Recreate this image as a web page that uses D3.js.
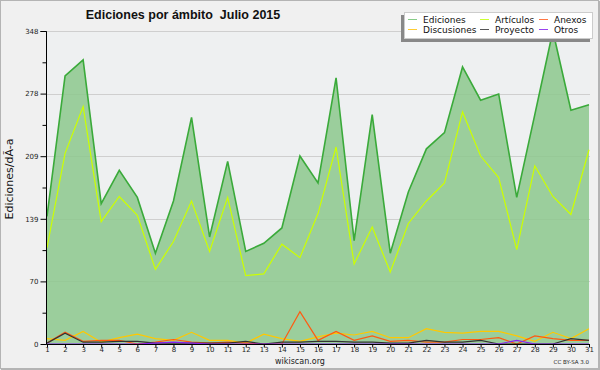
<!DOCTYPE html>
<html>
<head>
<meta charset="utf-8">
<script src="https://cdn.jsdelivr.net/npm/d3@7"></script>
<style>
  body { margin: 0; background: #f0f0f0; }
  svg { display: block; }
</style>
</head>
<body>
<div id="wrapper"></div>
<script>
// Data
const days = d3.range(1, 32);
const ediciones = [142, 298, 316, 156, 193, 163, 101, 159, 252, 119, 203, 103, 112, 129, 209, 179, 296, 115, 255, 101, 169, 217, 235, 308, 271, 278, 163, 255, 348, 260, 266];
const articulos = [107, 212, 264, 136, 164, 143, 83, 114, 159, 103, 163, 76, 78, 111, 96, 145, 219, 89, 130, 80, 134, 159, 179, 258, 209, 185, 105, 198, 164, 144, 216];
const discusiones = [6, 4, 14, 2, 7, 11, 6, 4, 13, 4, 4, 1, 11, 6, 3, 8, 12, 10, 14, 7, 7, 17, 13, 12, 14, 14, 9, 3, 13, 6, 17];
const anexos = [1, 13, 3, 4, 4, 0, 2, 5, 2, 1, 2, 1, 0, 0, 36, 4, 14, 4, 9, 3, 4, 2, 2, 5, 5, 7, 0, 9, 6, 4, 4];
const proyecto = [1, 12, 2, 2, 3, 3, 1, 1, 1, 1, 1, 3, 0, 2, 2, 3, 3, 2, 2, 1, 1, 4, 2, 2, 4, 0, 0, 0, 0, 6, 4];
const otros = [0, 0, 0, 0, 0, 0, 1, 2, 1, 0, 0, 0, 0, 0, 0, 0, 0, 0, 0, 0, 0, 0, 0, 0, 0, 0, 4, 0, 0, 0, 0];

const yMax = 348;
const yTicks = [0, 69.6, 139.2, 208.8, 278.4, 348];
const yMinorTicks = [34.8, 104.4, 174, 243.6, 313.2];

const legendNames = ["Ediciones", "Artículos", "Anexos", "Discusiones", "Proyecto", "Otros"];
const legendColors = ["#88cc88", "#ccff33", "#ff7744", "#ffcc33", "#555555", "#9944ee"];

const width = 600;
const height = 370;
const plot = { left: 47, right: 589, top: 31, bottom: 344 };

const svg = d3.select("#wrapper").append("svg")
  .attr("width", width)
  .attr("height", height);

// Background and frame
svg.append("rect").attr("width", width).attr("height", height).attr("fill", "#f0f0f0");
svg.append("rect")
  .attr("x", 0.5).attr("y", 0.5)
  .attr("width", width - 2).attr("height", height - 2)
  .attr("fill", "none").attr("stroke", "#b4b4b4");
svg.append("line").attr("x1", 1).attr("x2", width).attr("y1", height - 0.5).attr("y2", height - 0.5).attr("stroke", "#b4b4b4");
svg.append("line").attr("x1", width - 0.5).attr("x2", width - 0.5).attr("y1", 1).attr("y2", height).attr("stroke", "#b4b4b4");

// Scales
const xScale = d3.scaleLinear().domain([1, 31]).range([plot.left, plot.right]);
const yScale = d3.scaleLinear().domain([0, yMax]).range([plot.bottom, plot.top]);

// Plot area
svg.append("rect")
  .attr("x", plot.left).attr("y", plot.top)
  .attr("width", plot.right - plot.left + 1).attr("height", plot.bottom - plot.top)
  .attr("fill", "#eef0f1");

// Grid
svg.append("g")
  .selectAll("line")
  .data(yTicks.filter((d) => d > 0))
  .join("line")
  .attr("x1", plot.left).attr("x2", plot.right + 1)
  .attr("y1", (d) => Math.round(yScale(d)) + 0.5)
  .attr("y2", (d) => Math.round(yScale(d)) + 0.5)
  .attr("stroke", "#cfcfcf");

// Ediciones area
const area = d3.area()
  .x((d, i) => xScale(days[i]))
  .y0(yScale(0))
  .y1((d) => yScale(d));

svg.append("path")
  .datum(ediciones)
  .attr("d", area)
  .attr("fill", "#8fc88f")
  .attr("fill-opacity", 0.88);

const line = d3.line()
  .x((d, i) => xScale(days[i]))
  .y((d) => yScale(d));

const series = [
  { values: ediciones, color: "#3aaa3a", w: 1.6 },
  { values: articulos, color: "#ccff00", w: 1.2 },
  { values: discusiones, color: "#ffc800", w: 1.2 },
  { values: anexos, color: "#ff5a10", w: 1.2 },
  { values: proyecto, color: "#333333", w: 1.2 },
  { values: otros, color: "#8822ee", w: 1.2 },
];

svg.append("g")
  .selectAll("path")
  .data(series)
  .join("path")
  .attr("d", (d) => line(d.values))
  .attr("fill", "none")
  .attr("stroke", (d) => d.color)
  .attr("stroke-width", (d) => d.w)
  .attr("stroke-linejoin", "miter");

// Axes
const yAxis = svg.append("g")
  .attr("transform", `translate(${plot.left - 0.5},0)`)
  .call(d3.axisLeft(yScale).tickValues(yTicks).tickFormat(d3.format(".0f")).tickSize(6).tickPadding(2));
const yMinor = svg.append("g")
  .attr("transform", `translate(${plot.left - 0.5},0)`)
  .call(d3.axisLeft(yScale).tickValues(yMinorTicks).tickFormat("").tickSize(4));
yMinor.select(".domain").remove();

const xAxis = svg.append("g")
  .attr("transform", `translate(0,${plot.bottom + 0.5})`)
  .call(d3.axisBottom(xScale).tickValues(days).tickFormat(d3.format("d")).tickSize(3).tickPadding(0));

[yAxis, yMinor, xAxis].forEach((g) => {
  g.selectAll("text").attr("font-family", "DejaVu Sans").attr("font-size", 7).attr("fill", "#222");
  g.selectAll("line").attr("stroke", "#000");
  g.select(".domain").attr("stroke", "#000");
});
yAxis.select(".domain").attr("d", `M-6,${plot.top + 0.5}H0V${plot.bottom + 0.5}`);
xAxis.select(".domain").attr("d", `M${plot.left - 0.5},0H${plot.right + 1}`);

// Titles
svg.append("text")
  .attr("x", 183).attr("y", 19)
  .attr("text-anchor", "middle")
  .attr("font-family", "Liberation Sans")
  .attr("font-weight", "bold")
  .attr("font-size", 12.5)
  .attr("fill", "#111")
  .style("white-space", "pre")
  .text("Ediciones por ámbito  Julio 2015");

svg.append("text")
  .attr("transform", "translate(13,179) rotate(-90)")
  .attr("text-anchor", "middle")
  .attr("font-family", "DejaVu Sans")
  .attr("font-size", 11)
  .attr("fill", "#111")
  .text("Ediciones/dÃ-a");

svg.append("text")
  .attr("x", 300).attr("y", 364)
  .attr("text-anchor", "middle")
  .attr("font-family", "DejaVu Sans")
  .attr("font-size", 8)
  .attr("fill", "#222")
  .text("wikiscan.org");

svg.append("text")
  .attr("x", 589).attr("y", 364)
  .attr("text-anchor", "end")
  .attr("font-family", "DejaVu Sans")
  .attr("font-size", 5.5)
  .attr("fill", "#222")
  .text("CC BY-SA 3.0");

// Legend
const legend = svg.append("g");
legend.append("rect")
  .attr("x", 401).attr("y", 15).attr("width", 189).attr("height", 27)
  .attr("fill", "#888");
legend.append("rect")
  .attr("x", 404.5).attr("y", 12.5).attr("width", 188).attr("height", 26)
  .attr("fill", "#fff").attr("stroke", "#cccccc");

const colX = [408, 480, 539];
const rowY = [19, 29];
const items = legend.selectAll("g.item")
  .data(legendNames.map((name, i) => ({ name, color: legendColors[i], col: i % 3, row: Math.floor(i / 3) })))
  .join("g")
  .attr("class", "item")
  .attr("transform", (d) => `translate(${colX[d.col]},${rowY[d.row]})`);
items.append("line")
  .attr("x1", 0).attr("x2", 9).attr("y1", 0.5).attr("y2", 0.5)
  .attr("stroke", (d) => d.color);
items.append("text")
  .attr("x", 15).attr("y", 3.5)
  .attr("font-family", "DejaVu Sans")
  .attr("font-size", 9)
  .attr("fill", "#111")
  .text((d) => d.name);
</script>
</body>
</html>
